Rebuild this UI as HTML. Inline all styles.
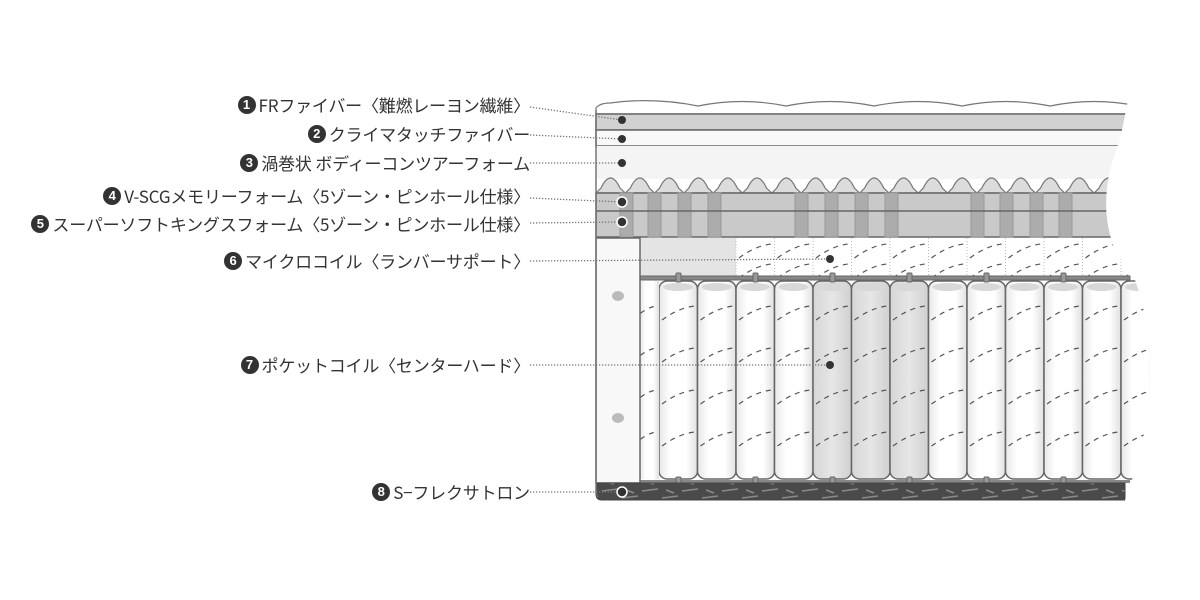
<!DOCTYPE html>
<html><head><meta charset="utf-8">
<style>
html,body{margin:0;padding:0;background:#fff;width:1200px;height:600px;overflow:hidden;position:relative}
.lab{position:absolute;right:670px;display:flex;align-items:center;white-space:nowrap;font-family:"Noto Sans CJK JP","Liberation Sans",sans-serif;font-size:17px;color:#333;height:22px;line-height:22px;letter-spacing:-0.2px}
.n{display:inline-block;width:18px;height:18px;border-radius:50%;background:#333;color:#fff;font-family:"Liberation Sans",sans-serif;font-size:13px;font-weight:bold;line-height:18px;text-align:center;margin-right:3px;letter-spacing:0}
svg{position:absolute;left:0;top:0}
</style></head><body>
<svg id="s" width="1200" height="600" viewBox="0 0 1200 600">
<defs>
<linearGradient id="cg" x1="0" x2="1"><stop offset="0" stop-color="#e8e8e8"/><stop offset=".3" stop-color="#fff"/><stop offset=".7" stop-color="#fff"/><stop offset="1" stop-color="#e0e0e0"/></linearGradient>
<linearGradient id="cg2" x1="0" x2="1"><stop offset="0" stop-color="#d6d6d6"/><stop offset=".5" stop-color="#e6e6e6"/><stop offset="1" stop-color="#d0d0d0"/></linearGradient>
<pattern id="fab" width="40" height="18" patternUnits="userSpaceOnUse"><rect width="40" height="18" fill="#4a4a4a"/><path d="M2 5 L18 3 M22 12 L38 10 M6 14 L14 16 M26 4 L34 7" stroke="#8a8a8a" stroke-width="1.5"/></pattern>
</defs>
<g id="g"></g>
</svg>
<div class="lab" style="top:94px"><span class="n">1</span>FRファイバー〈難燃レーヨン繊維〉</div>
<div class="lab" style="top:123px"><span class="n">2</span>クライマタッチファイバー</div>
<div class="lab" style="top:152px"><span class="n">3</span>渦巻状 ボディーコンツアーフォーム</div>
<div class="lab" style="top:185px"><span class="n">4</span>V-SCGメモリーフォーム〈5ゾーン・ピンホール仕様〉</div>
<div class="lab" style="top:213px"><span class="n">5</span>スーパーソフトキングスフォーム〈5ゾーン・ピンホール仕様〉</div>
<div class="lab" style="top:250px"><span class="n">6</span>マイクロコイル〈ランバーサポート〉</div>
<div class="lab" style="top:354px"><span class="n">7</span>ポケットコイル〈センターハード〉</div>
<div class="lab" style="top:481px"><span class="n">8</span>S−フレクサトロン</div>
<script>
var h='';
function a(s){h+=s;}
var st='stroke="#666" stroke-width="1.5"';
var q='M596 112 L596 108 Q600 103 610 103';
for(var x=610;x<1128;x+=88){q+=' Q'+(x+44)+' 97 '+(x+88)+' 106';}
a('<path d="'+q+' L1128 114 L596 114 Z" fill="#fff" stroke="#777" stroke-width="1.2"/>');
a('<rect x="596" y="114" width="530" height="16" fill="#d2d2d2" '+st+'/>');
a('<rect x="596" y="130" width="530" height="16" fill="#f8f8f8" '+st+'/>');
a('<rect x="596" y="146" width="530" height="33" fill="#f4f4f4" stroke="none"/>');
var b='M596 193';
for(var x=596;x<1110;x+=29.3){b+=' L'+(x+5)+' 188 Q'+(x+14.6)+' 168 '+(x+24)+' 188 L'+(x+29.3)+' 193';}
a('<path d="'+b+' Z" fill="#dcdcdc" stroke="#777" stroke-width="1.2"/>');
a('<rect x="596" y="193" width="520" height="44" fill="#c9c9c9" '+st+'/>');
var cols=[620,648,678,708,795,825,855,885,971,1000,1030,1059];
for(var i=0;i<cols.length;i++){a('<rect x="'+cols[i]+'" y="193" width="13" height="44" fill="#acacac" stroke="#999" stroke-width="1"/>');}
a('<line x1="596" y1="211" x2="1116" y2="211" '+st+'/>');
a('<rect x="640" y="238" width="490" height="40" fill="#fff"/>');
a('<rect x="640" y="238" width="96" height="40" fill="#e4e4e4"/>');
function dash(x,y,w){return '<path d="M'+(x+3)+' '+(y+10)+' Q'+(x+w/2)+' '+(y-2)+' '+(x+w-3)+' '+(y-4)+'" fill="none" stroke="#555" stroke-width="1.2" stroke-dasharray="5 5"/>';}
for(var x=736;x<1130;x+=38.5){a('<line x1="'+x+'" y1="238" x2="'+x+'" y2="278" stroke="#bbb" stroke-dasharray="1 2"/>');a(dash(x,248,38));a(dash(x,268,38));}
a('<rect x="640" y="282" width="490" height="198" fill="#fff"/>');
for(var x=659,i=0;x<1125;x+=38.5,i++){var f=(i>=4&&i<=6)?'url(#cg2)':'url(#cg)';a('<rect x="'+x+'" y="281" width="38.5" height="198" rx="8" fill="'+f+'" stroke="#666" stroke-width="1.5"/>');a('<ellipse cx="'+(x+19)+'" cy="287" rx="15" ry="4" fill="#d8d8d8"/>');for(var y=310;y<470;y+=42)a(dash(x,y,38.5));}
a('<rect x="640" y="281" width="19" height="198" fill="url(#cg)"/>');for(var y=310;y<470;y+=42)a(dash(630,y,29));
a('<rect x="640" y="276" width="490" height="4" fill="#888" stroke="#666"/>');
a('<rect x="640" y="480" width="490" height="3" fill="#888"/>');
for(var x=678;x<1130;x+=77){a('<rect x="'+(x-2)+'" y="273" width="5" height="9" rx="1" fill="#999" stroke="#666"/>');a('<rect x="'+(x-2)+'" y="477" width="5" height="9" rx="1" fill="#999" stroke="#666"/>');}
a('<rect x="596" y="238" width="44" height="245" fill="#f8f8f8" '+st+'/>');
a('<ellipse cx="618" cy="296" rx="6" ry="5" fill="#bbb"/><ellipse cx="618" cy="418" rx="6" ry="5" fill="#bbb"/>');
a('<path d="M596 483 L1125 483 L1125 500 L602 500 Q596 500 596 494 Z" fill="url(#fab)" stroke="#444"/>');
a('<line x1="596" y1="110" x2="596" y2="495" stroke="#777" stroke-width="1.5"/>');
a('<path d="M1200 90 L1130 90 L1120 140 Q1095 200 1115 250 L1135 280 Q1170 380 1125 500 L1125 520 L1200 520 Z" fill="#fff"/>');
var L=[[530,107,622,120],[530,135,622,139],[530,163,622,163],[530,198,622,202],[530,223,622,222],[530,261,830,259],[530,365,830,365],[530,492,622,492]];
for(var i=0;i<L.length;i++){var l=L[i];a('<line x1="'+l[0]+'" y1="'+l[1]+'" x2="'+l[2]+'" y2="'+l[3]+'" stroke="#777" stroke-width="1.3" stroke-dasharray="1.3 1.7"/>');
var ring=(i==3||i==4||i==7);a('<circle cx="'+l[2]+'" cy="'+l[3]+'" r="'+(ring?5:4)+'" fill="#333" '+(ring?'stroke="#fff" stroke-width="1.5"':'')+'/>');}
document.getElementById('g').innerHTML=h;
</script>
</body></html>
